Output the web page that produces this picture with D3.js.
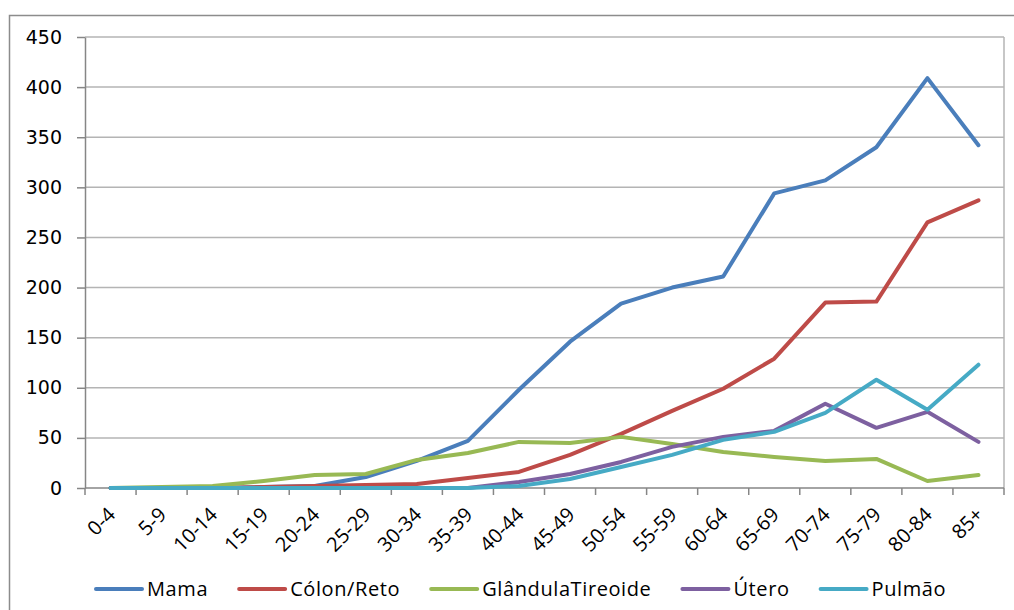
<!DOCTYPE html>
<html>
<head>
<meta charset="utf-8">
<script src="https://cdn.jsdelivr.net/npm/d3@7"></script>
<style>
  html, body { margin: 0; padding: 0; background: #fff; }
  svg { display: block; }
</style>
</head>
<body>
<svg id="chart" width="1014" height="610"></svg>
<script>
// Age groups (years)
const categories = ["0-4","5-9","10-14","15-19","20-24","25-29","30-34","35-39","40-44",
  "45-49","50-54","55-59","60-64","65-69","70-74","75-79","80-84","85+"];

// Cases per age group, by cancer site
const mama     = [0,0,0,1,2,11,27,47,98,146,184,200,211,294,307,340,409,342];
const colon    = [0,0,0,1,2,3,4,10,16,33,54,77,99,129,185,186,265,287];
const tireoide = [0,1,2,7,13,14,28,35,46,45,51,44,36,31,27,29,7,13];
const utero    = [0,0,0,0,0,0,0,0,6,14,26,41,51,57,84,60,76,46];
const pulmao   = [0,0,0,0,0,0,0,0,2,9,21,33,48,56,75,108,78,123];

const seriesNames = ["Mama","Cólon/Reto","GlândulaTireoide","Útero","Pulmão"];
const yTicks = [0,50,100,150,200,250,300,350,400,450];

const series = [
  { name: seriesNames[0], values: mama,     color: "#4a7ebb" },
  { name: seriesNames[1], values: colon,    color: "#be4b48" },
  { name: seriesNames[2], values: tireoide, color: "#98b954" },
  { name: seriesNames[3], values: utero,    color: "#7d60a0" },
  { name: seriesNames[4], values: pulmao,   color: "#46aac5" }
];

const svg = d3.select("#chart");
const plot = { left: 85, right: 1004, top: 37, bottom: 488 };

// outer frame (extends past the right and bottom edges)
svg.append("rect")
  .attr("x", 9.5).attr("y", 15.5)
  .attr("width", 1030).attr("height", 620)
  .attr("fill", "none").attr("stroke", "#8c8c8c").attr("stroke-width", 1.5);

const x = d3.scaleBand().domain(categories).range([plot.left, plot.right]);
const y = d3.scaleLinear().domain([0, 450]).range([plot.bottom, plot.top]);
const cx = c => x(c) + x.bandwidth() / 2;

// horizontal gridlines
svg.append("g")
  .selectAll("line")
  .data(yTicks.filter(t => t > 0))
  .join("line")
  .attr("x1", plot.left).attr("x2", plot.right)
  .attr("y1", d => y(d)).attr("y2", d => y(d))
  .attr("stroke", "#b4b4b4").attr("stroke-width", 1.5);

// right border of the plot area
svg.append("line")
  .attr("x1", plot.right).attr("x2", plot.right)
  .attr("y1", plot.top).attr("y2", plot.bottom)
  .attr("stroke", "#b4b4b4").attr("stroke-width", 1.5);

// y axis
const yAxis = svg.append("g")
  .attr("transform", `translate(${plot.left},0)`)
  .call(d3.axisLeft(y).tickValues(yTicks).tickSize(8).tickSizeOuter(0).tickPadding(15));
yAxis.select(".domain").attr("stroke", "#868686").attr("stroke-width", 1.5);
yAxis.selectAll(".tick line").attr("stroke", "#868686").attr("stroke-width", 1.5);
yAxis.selectAll(".tick text")
  .attr("font-family", "'DejaVu Sans', Verdana, sans-serif")
  .attr("font-size", 19).attr("fill", "#000");

// x axis: ticks sit on the band boundaries
const xAxis = svg.append("g");
xAxis.append("line")
  .attr("x1", plot.left).attr("x2", plot.right)
  .attr("y1", plot.bottom).attr("y2", plot.bottom)
  .attr("stroke", "#868686").attr("stroke-width", 1.5);
const boundaries = categories.map(c => x(c)).concat([plot.right]);
xAxis.selectAll("line.tk")
  .data(boundaries)
  .join("line")
  .attr("class", "tk")
  .attr("x1", d => d).attr("x2", d => d)
  .attr("y1", plot.bottom).attr("y2", plot.bottom + 7)
  .attr("stroke", "#868686").attr("stroke-width", 1.5);
xAxis.selectAll("text")
  .data(categories)
  .join("text")
  .attr("transform", d => `translate(${cx(d) + 6},${plot.bottom + 28}) rotate(-45)`)
  .attr("text-anchor", "end")
  .attr("font-family", "'Open Sans', sans-serif")
  .attr("font-size", 20)
  .attr("fill", "#000")
  .text(d => d);

// series lines
const line = d3.line()
  .x((d, i) => cx(categories[i]))
  .y(d => y(d));

svg.append("g")
  .selectAll("path")
  .data(series)
  .join("path")
  .attr("d", s => line(s.values))
  .attr("fill", "none")
  .attr("stroke", s => s.color)
  .attr("stroke-width", 4)
  .attr("stroke-linejoin", "round")
  .attr("stroke-linecap", "round");

// legend, laid out left to right
const legend = svg.append("g").attr("transform", "translate(96,589)");
let lx = 0;
series.forEach(s => {
  const g = legend.append("g").attr("transform", `translate(${lx},0)`);
  g.append("line")
    .attr("x1", 0).attr("x2", 46).attr("y1", 0).attr("y2", 0)
    .attr("stroke", s.color).attr("stroke-width", 4).attr("stroke-linecap", "round");
  const t = g.append("text")
    .attr("x", 51).attr("y", 7)
    .attr("font-family", "'Open Sans', sans-serif")
    .attr("font-size", 20)
    .attr("letter-spacing", 0.6)
    .attr("fill", "#000")
    .text(s.name);
  lx += 51 + t.node().getComputedTextLength() + 31;
});
</script>
</body>
</html>
